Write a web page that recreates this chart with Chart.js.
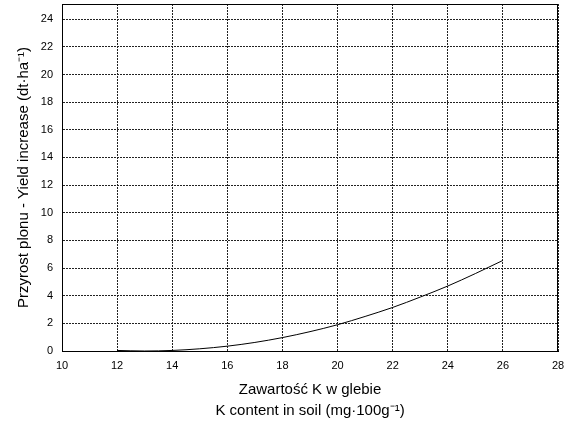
<!DOCTYPE html>
<html>
<head>
<meta charset="utf-8">
<script src="https://cdn.jsdelivr.net/npm/chart.js@4/dist/chart.umd.min.js"></script>
<style>
  html, body { margin: 0; padding: 0; background: #fff; }
  #wrap { width: 564px; height: 424px; }
</style>
</head>
<body>
<div id="wrap"><canvas id="chart" width="564" height="424"></canvas></div>
<script>
// ===== Data =====
const kContent = [12, 13, 14, 15, 16, 17, 18, 19, 20, 21, 22, 23, 24, 25, 26];
const yieldIncrease = [0.04, 0, 0.04, 0.16, 0.35, 0.62, 0.97, 1.4, 1.9, 2.5, 3.15, 3.9, 4.7, 5.6, 6.55];

const yTitle = 'Przyrost plonu - Yield increase (dt\u00B7ha\u207B\u00B9)';
const xTitle = ['Zawartość K w glebie', 'K content in soil (mg\u00B7100g\u207B\u00B9)'];

const FONT = 'Arial, "Liberation Sans", sans-serif';

// frame around the plot area
const frame = {
  id: 'frame',
  afterDraw(chart) {
    const { ctx, chartArea: a } = chart;
    ctx.save();
    ctx.strokeStyle = '#000';
    ctx.lineWidth = 1;
    ctx.strokeRect(a.left + 0.5, a.top + 0.5, a.right - a.left - 1, a.bottom - a.top);
    ctx.restore();
  }
};

new Chart(document.getElementById('chart'), {
  type: 'line',
  data: {
    datasets: [{
      data: kContent.map((x, i) => ({ x, y: yieldIncrease[i] })),
      borderColor: '#000',
      borderWidth: 1,
      pointRadius: 0,
      cubicInterpolationMode: 'monotone',
      fill: false
    }]
  },
  options: {
    responsive: false,
    animation: false,
    devicePixelRatio: 1,
    layout: { padding: { top: 4, right: 6, left: 0, bottom: 0 } },
    plugins: { legend: { display: false }, tooltip: { enabled: false } },
    scales: {
      x: {
        type: 'linear',
        min: 10, max: 28,
        afterFit: s => { s.height = 73; s.paddingRight = 0; s.paddingLeft = 0; },
        ticks: { stepSize: 2, color: '#000', font: { family: FONT, size: 11 }, padding: 8, maxRotation: 0 },
        grid: { color: '#222', lineWidth: 1, drawTicks: false },
        border: { display: true, color: '#000', dash: [2, 1] },
        title: {
          display: true, text: xTitle, color: '#000',
          font: { family: FONT, size: 15, lineHeight: 1.45 }, padding: { top: 6, bottom: 2 }
        }
      },
      y: {
        type: 'linear',
        min: 0, max: 25.1,
        afterFit: s => { s.width = 62; s.paddingTop = 0; s.paddingBottom = 0; },
        afterBuildTicks: s => { s.ticks = s.ticks.filter(t => t.value <= 24.01); },
        ticks: { stepSize: 2, color: '#000', font: { family: FONT, size: 11 }, padding: 9 },
        grid: { color: '#222', lineWidth: 1, drawTicks: false },
        border: { display: true, color: '#000', dash: [2, 1] },
        title: {
          display: true, text: yTitle, color: '#000',
          font: { family: FONT, size: 15 }, padding: { top: 15, bottom: 4 }
        }
      }
    }
  },
  plugins: [frame]
});
</script>
</body>
</html>
